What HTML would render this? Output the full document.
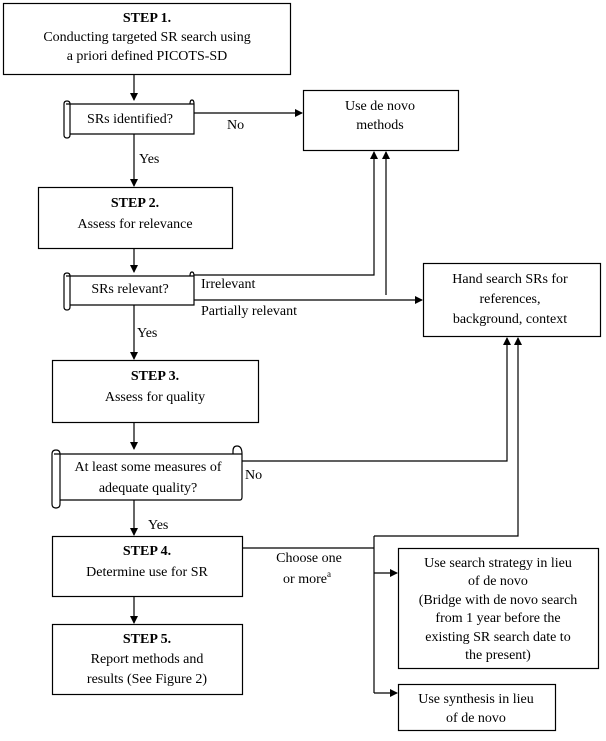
<!DOCTYPE html>
<html><head><style>
body{margin:0;background:#fff}
svg text, text{font-family:"Liberation Serif","Times New Roman",Times,serif !important;font-size:14px;fill:#000}
</style></head><body>
<svg width="606" height="736" viewBox="0 0 606 736" xmlns="http://www.w3.org/2000/svg" font-family="Liberation Serif, Times New Roman, serif">
<defs><marker id="a" markerWidth="8" markerHeight="8" refX="7" refY="4" orient="auto" markerUnits="userSpaceOnUse"><path d="M0,0 L8,4 L0,8z" fill="#000"/></marker></defs>
<g fill="none" stroke="#000" stroke-width="1.2">
<rect x="3.5" y="3.5" width="287" height="71"/>
<rect x="303.5" y="90.5" width="155" height="60"/>
<rect x="38.5" y="187.5" width="194" height="61"/>
<rect x="423.5" y="263.5" width="177" height="73"/>
<rect x="52.5" y="360.5" width="206" height="62"/>
<rect x="52.5" y="536.5" width="190" height="60"/>
<rect x="52.5" y="624.5" width="190" height="70"/>
<rect x="398.5" y="548.5" width="200" height="120"/>
<rect x="398.5" y="684.5" width="157" height="46"/>
<path d="M66,104 H194 M64,104 V135 Q64,138 67,138 Q70,138 70,135 V104 Q70,101 67,101 Q64,101 64,104 M70,134 H194 V104 Q194,100 192,100 Q190,100 190,104"/>
<path d="M66,276 H194 M64,276 V307 Q64,310 67,310 Q70,310 70,307 V276 Q70,273 67,273 Q64,273 64,276 M70,305 H194 V276 Q194,272 192,272 Q190,272 190,276"/>
<path d="M54,454 H242 M52,454 V504 Q52,508 56,508 Q60,508 60,504 V454 Q60,450 56,450 Q52,450 52,454 M60,500 H240 Q242,500 242,497 V454 Q242,446 237,446 Q233,446 233,451 V454"/>
<g marker-end="url(#a)">
<line x1="134" y1="75" x2="134" y2="100"/>
<line x1="194" y1="113" x2="302" y2="113"/>
<line x1="134" y1="134" x2="134" y2="186"/>
<line x1="134" y1="249" x2="134" y2="272"/>
<polyline points="194,275 374,275 374,152"/>
<line x1="386" y1="295" x2="386" y2="152"/>
<line x1="194" y1="300" x2="422" y2="300"/>
<line x1="134" y1="305" x2="134" y2="359"/>
<line x1="134" y1="423" x2="134" y2="449"/>
<polyline points="242,461 507,461 507,338"/>
<polyline points="374,536 518,536 518,338"/>
<line x1="134" y1="500" x2="134" y2="535"/>
<line x1="134" y1="597" x2="134" y2="623"/>
<line x1="374" y1="573" x2="397" y2="573"/>
<line x1="374" y1="693" x2="397" y2="693"/>
</g>
<line x1="242" y1="548" x2="374" y2="548"/>
<line x1="374" y1="536" x2="374" y2="693"/>
</g>
<g text-anchor="middle">
<text x="147" y="22" font-weight="bold">STEP 1.</text>
<text x="147" y="41">Conducting targeted SR search using</text>
<text x="147" y="60">a priori defined PICOTS-SD</text>
<text x="130" y="123">SRs identified?</text>
<text x="380" y="110">Use de novo</text>
<text x="380" y="129">methods</text>
<text x="135" y="207" font-weight="bold">STEP 2.</text>
<text x="135" y="228">Assess for relevance</text>
<text x="130" y="293">SRs relevant?</text>
<text x="510" y="283">Hand search SRs for</text>
<text x="510" y="303">references,</text>
<text x="510" y="323">background, context</text>
<text x="155" y="380" font-weight="bold">STEP 3.</text>
<text x="155" y="401">Assess for quality</text>
<text x="148" y="471">At least some measures of</text>
<text x="148" y="492">adequate quality?</text>
<text x="147" y="555" font-weight="bold">STEP 4.</text>
<text x="147" y="576">Determine use for SR</text>
<text x="147" y="643" font-weight="bold">STEP 5.</text>
<text x="147" y="663">Report methods and</text>
<text x="147" y="683">results (See Figure 2)</text>
<text x="309" y="562">Choose one</text>
<text x="307" y="583">or more<tspan font-size="9" dy="-6">a</tspan></text>
<text x="498" y="567">Use search strategy in lieu</text>
<text x="498" y="585">of de novo</text>
<text x="498" y="604">(Bridge with de novo search</text>
<text x="498" y="622">from 1 year before the</text>
<text x="498" y="641">existing SR search date to</text>
<text x="498" y="659">the present)</text>
<text x="476" y="703">Use synthesis in lieu</text>
<text x="476" y="722">of de novo</text>
</g>
<text x="227" y="129">No</text>
<text x="139" y="163">Yes</text>
<text x="201" y="288">Irrelevant</text>
<text x="201" y="315">Partially relevant</text>
<text x="137" y="337">Yes</text>
<text x="245" y="479">No</text>
<text x="148" y="529">Yes</text>
</svg>
</body></html>
